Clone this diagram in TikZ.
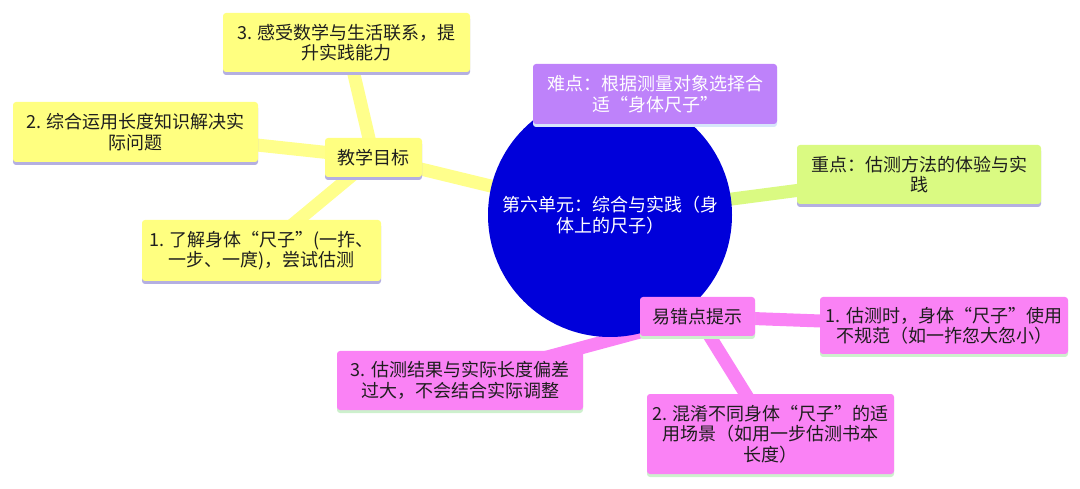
\documentclass[tikz,border=0pt]{standalone}
\usepackage{fontspec}
\setmainfont{Noto Sans CJK SC}
\usetikzlibrary{backgrounds,shadows}
\definecolor{hubblue}{RGB}{0,0,218}
\definecolor{goalyel}{RGB}{255,255,128}
\definecolor{goalline}{RGB}{255,255,140}
\definecolor{hardlil}{RGB}{190,130,250}
\definecolor{keygrn}{RGB}{218,250,130}
\definecolor{errpink}{RGB}{250,130,245}
\definecolor{shadelav}{RGB}{180,175,225}
\definecolor{shadegrn}{RGB}{205,240,205}
\definecolor{shadesky}{RGB}{215,230,250}
\definecolor{inkdark}{RGB}{30,30,30}
\begin{document}
\begin{tikzpicture}[x=1pt,y=-1pt,line join=round,
    every node/.style={font=\fontsize{18}{20.5}\selectfont,align=center,inner sep=0pt,text=inkdark},
    card/.style={rectangle,rounded corners=3pt,drop shadow={shadow xshift=0pt,shadow yshift=-3pt,fill=#1,opacity=1}},
    goalcard/.style={card=shadelav,fill=goalyel},
    errcard/.style={card=shadegrn,fill=errpink}]
  \useasboundingbox (0,0) rectangle (1080,489);
  % centre
  \node[circle,fill=hubblue,minimum size=244,text=white] (hub) at (610,215) {第六单元：综合与实践（身\\体上的尺子）};
  % teaching goals
  \node[goalcard,minimum width=97,minimum height=39] (goal) at (373.5,157.5) {教学目标};
  \node[goalcard,minimum width=239,minimum height=61] (g1) at (261.5,250.5) {1. 了解身体“尺子”(一拃、\\一步、一庹)，尝试估测};
  \node[goalcard,minimum width=245,minimum height=60] (g2) at (135.5,132) {2. 综合运用长度知识解决实\\际问题};
  \node[goalcard,minimum width=247,minimum height=59] (g3) at (346.5,42.5) {3. 感受数学与生活联系，提\\升实践能力};
  % hard point, key point
  \node[card=shadesky,fill=hardlil,text=white,minimum width=244,minimum height=60] (hard) at (655,94) {难点：根据测量对象选择合\\适“身体尺子”};
  \node[card=shadelav,fill=keygrn,minimum width=244,minimum height=59] (key) at (919,174.5) {重点：估测方法的体验与实\\践};
  % common mistakes
  \node[errcard,minimum width=115,minimum height=39] (err) at (697.5,316.5) {易错点提示};
  \node[errcard,minimum width=248,minimum height=57] (e1) at (944,325.5) {1. 估测时，身体“尺子”使用\\不规范（如一拃忽大忽小）};
  \node[errcard,minimum width=247,minimum height=80] (e2) at (770.5,434) {2. 混淆不同身体“尺子”的适\\用场景（如用一步估测书本\\长度）};
  \node[errcard,minimum width=246,minimum height=59] (e3) at (460,380.5) {3. 估测结果与实际长度偏差\\过大，不会结合实际调整};
  \begin{scope}[on background layer]
    \foreach \a/\b/\c in {hub/goal/goalline,goal/g1/goalline,goal/g2/goalline,goal/g3/goalline,
      hub/key/keygrn,hub/err/errpink,err/e1/errpink,err/e2/errpink,err/e3/errpink}
      \draw[\c,line width=13] (\a.center) -- (\b.center);
  \end{scope}
\end{tikzpicture}
\end{document}
